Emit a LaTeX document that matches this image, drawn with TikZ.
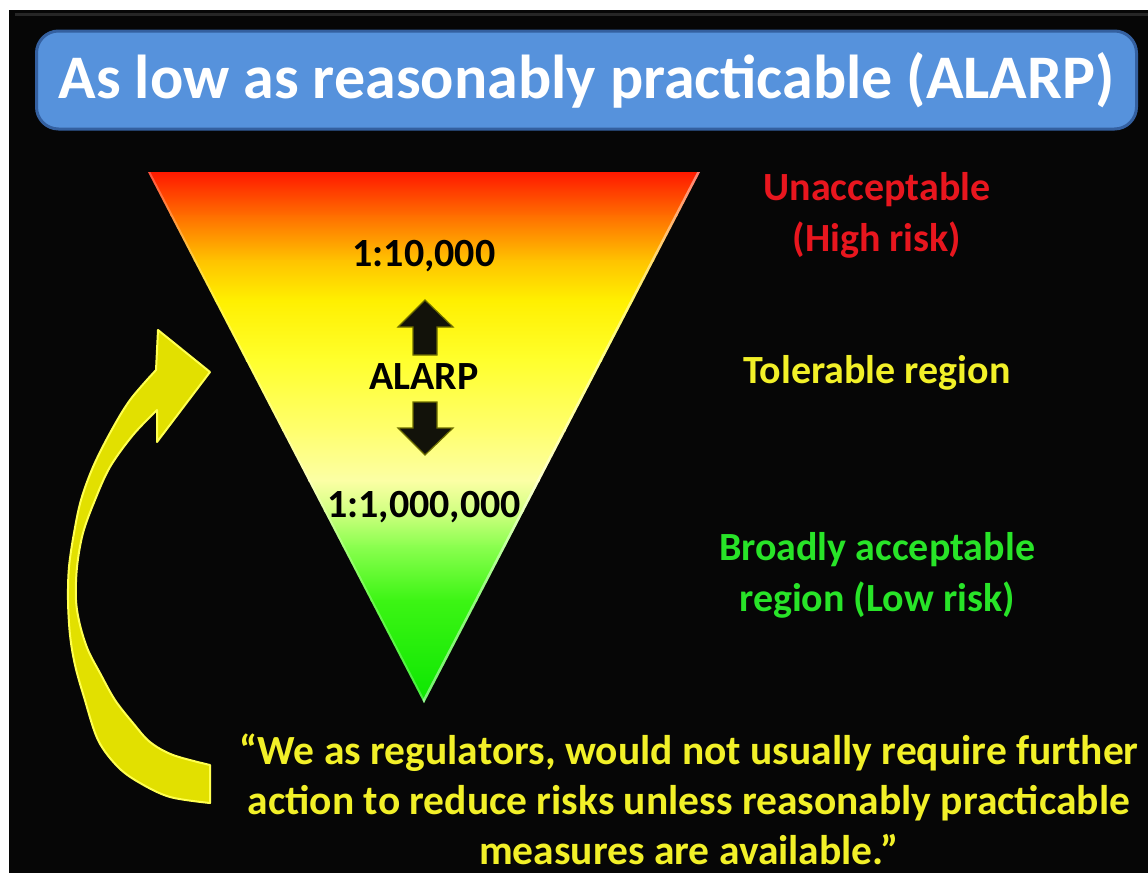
\documentclass[tikz,border=0pt]{standalone}
\usepackage{fontspec}
\setmainfont{Carlito}
\definecolor{bgblack}{RGB}{6,6,6}
\definecolor{titleblue}{RGB}{86,146,220}
\definecolor{titleedge}{RGB}{52,96,160}
\definecolor{redtxt}{RGB}{232,22,30}
\definecolor{yeltxt}{RGB}{242,240,40}
\definecolor{grntxt}{RGB}{40,228,40}
\definecolor{arrowyel}{RGB}{226,224,0}
\definecolor{arrowrim}{RGB}{255,255,80}
\definecolor{blockfill}{RGB}{18,18,10}
\definecolor{blockrim}{RGB}{110,110,0}
\definecolor{g0}{RGB}{255,25,0}
\definecolor{g1}{RGB}{255,110,0}
\definecolor{g2}{RGB}{255,195,0}
\definecolor{g3}{RGB}{255,240,0}
\definecolor{g4}{RGB}{255,255,45}
\definecolor{g5}{RGB}{255,255,110}
\definecolor{g6}{RGB}{252,255,165}
\definecolor{g7}{RGB}{210,255,130}
\definecolor{g8}{RGB}{140,255,80}
\definecolor{g9}{RGB}{60,245,20}
\definecolor{g10}{RGB}{10,230,0}
\tikzset{
  titlebar/.style={draw=titleedge, line width=3pt, fill=titleblue, rounded corners=22pt,
    minimum width=1100pt, minimum height=98pt, inner sep=0pt, text=white,
    font=\fontsize{62}{70}\selectfont\bfseries},
  tri/.style={inner sep=0pt, text=black, font=\fontsize{40}{48}\selectfont\bfseries},
  lab/.style={inner sep=0pt, align=center, font=\fontsize{40}{51}\selectfont\bfseries},
  quotestyle/.style={inner sep=0pt, align=center, font=\fontsize{41.5}{50}\selectfont\bfseries},
  block/.style={fill=blockfill, draw=blockrim, line width=1.2pt, line join=miter},
  bigarrow/.style={fill=arrowyel, draw=arrowrim, line width=2pt, line join=round}
}
\begin{document}
\begin{tikzpicture}[x=1pt,y=-1pt]
\useasboundingbox (0,0) rectangle (1148,873);
\fill[white] (0,0) rectangle (1148,873);
\fill[bgblack] (9,10) rectangle (1148,873);
\draw[black!70!gray, line width=3pt] (15,14) -- (1148,14);

% title bar
\node[titlebar] (title) at (586.5,80) {As low as reasonably practicable (ALARP)};

% triangle
\coordinate (TL) at (148,172);
\coordinate (TR) at (700,172);
\coordinate (AP) at (424,703);
\begin{scope}
  \clip (TL) -- (TR) -- (AP) -- cycle;
  \shade[top color=g0, bottom color=g1] (140,172) rectangle (710,216);
  \shade[top color=g1, bottom color=g2] (140,215) rectangle (710,261);
  \shade[top color=g2, bottom color=g3] (140,260) rectangle (710,301);
  \shade[top color=g3, bottom color=g4] (140,300) rectangle (710,361);
  \shade[top color=g4, bottom color=g5] (140,360) rectangle (710,431);
  \shade[top color=g5, bottom color=g6] (140,430) rectangle (710,481);
  \shade[top color=g6, bottom color=g7] (140,480) rectangle (710,511);
  \shade[top color=g7, bottom color=g8] (140,510) rectangle (710,546);
  \shade[top color=g8, bottom color=g9] (140,545) rectangle (710,601);
  \shade[top color=g9, bottom color=g10] (140,600) rectangle (710,705);
  \draw[white, opacity=0.45, line width=5pt] (TR) -- (AP);
  \draw[white, opacity=0.25, line width=4pt] (TL) -- (AP);
\end{scope}

% labels inside triangle
\node[tri] (r1) at (424,256) {1:10,000};
\node[tri] (alarp) at (424,377) {ALARP};
\node[tri] (r2) at (424,507) {1:1,000,000};

% up / down block arrows
\draw[block] (425,300) -- (453,327) -- (437,327) -- (437,355) -- (413,355) -- (413,327) -- (398,327) -- cycle;
\draw[block] (413,402) -- (437,402) -- (437,428) -- (453,428) -- (425,455) -- (398,428) -- (413,428) -- cycle;

% right column labels
\node[lab, text=redtxt] (unacc) at (877,215) {Unacceptable\\(High risk)};
\node[lab, text=yeltxt] (toler) at (877,373) {Tolerable region};
\node[lab, text=grntxt] (broad) at (877,575) {Broadly acceptable\\region (Low risk)};

% quote
\node[quotestyle, text=yeltxt] (quote) at (689,799) {“We as regulators, would not usually require further\\action to reduce risks unless reasonably practicable\\measures are available.”};

% curved arrow
\path[bigarrow] (210,372) -- (158,330) -- (156,370)
  -- plot[smooth, tension=0.55] coordinates {(156,370) (130,400) (110,433) (93,467) (81,500) (74,533) (69,567) (68,600) (70,635) (75,665) (84,697) (98,740) (118,767) (140,783) (170,797) (210,803)}
  -- (210,765)
  -- plot[smooth, tension=0.55] coordinates {(210,765) (173,755) (150,742) (133,723) (115,700) (100,673) (88,650) (80,625) (76,600) (77,567) (83,533) (95,500) (110,467) (133,435) (157,410)}
  -- (157,442) -- cycle;
\end{tikzpicture}
\end{document}
